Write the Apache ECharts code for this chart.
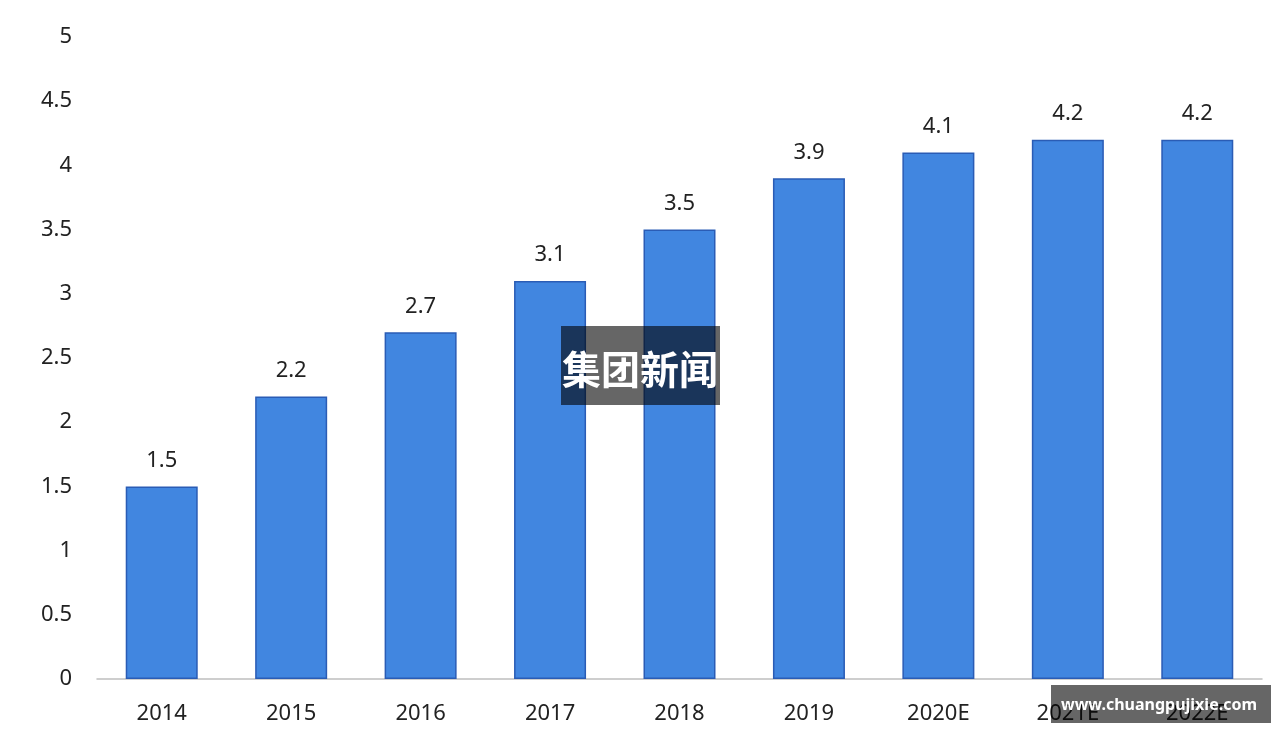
<!DOCTYPE html>
<html><head><meta charset="utf-8">
<script src="https://cdn.jsdelivr.net/npm/echarts@6/dist/echarts.min.js"></script>
<style>html,body{margin:0;padding:0;background:#fff}#c{width:1280px;height:732px}</style>
</head><body><div id="c"></div>
<script>
const categories = ['2014','2015','2016','2017','2018','2019','2020E','2021E','2022E'];
const values = [1.5, 2.2, 2.7, 3.1, 3.5, 3.9, 4.1, 4.2, 4.2];
const overlayText = '集团新闻';
const siteText = 'www.chuangpujixie.com';

const chart = echarts.init(document.getElementById('c'));
chart.setOption({
  animation: false,
  grid: {left: 97, right: 18, top: 37, bottom: 53},
  xAxis: {
    type: 'category', data: categories,
    axisLine: {lineStyle: {color: '#bfbfbf', width: 1.5}},
    axisTick: {show: false},
    axisLabel: {color: '#222', fontSize: 22, margin: 24, fontFamily: 'Noto Sans'}
  },
  yAxis: {
    type: 'value', min: 0, max: 5, interval: 0.5,
    splitLine: {show: false},
    axisLine: {show: false}, axisTick: {show: false},
    axisLabel: {color: '#222', fontSize: 22, margin: 25, fontFamily: 'Noto Sans'}
  },
  series: [{
    type: 'bar', data: values, barWidth: 72,
    itemStyle: {color: '#4186e0', borderColor: '#2a5cb5', borderWidth: 1.5},
    label: {show: true, position: 'top', distance: 15, color: '#222', fontSize: 22, fontFamily: 'Noto Sans'}
  }],
  graphic: [
    {type: 'rect', z: 100, x: 561, y: 326, shape: {width: 159, height: 79}, style: {fill: 'rgba(0,0,0,0.6)'}},
    {type: 'text', z: 101, x: 640, y: 369, style: {text: overlayText, align: 'center', verticalAlign: 'middle', fill: '#fff', font: 'bold 39px "Noto Sans CJK SC"'}},
    {type: 'rect', z: 100, x: 1051, y: 685, shape: {width: 220, height: 38}, style: {fill: 'rgba(0,0,0,0.6)'}},
    {type: 'text', z: 101, x: 1159, y: 705, style: {text: siteText, align: 'center', verticalAlign: 'middle', fill: '#fff', font: 'bold 16px "Noto Sans"'}}
  ]
});
</script></body></html>
